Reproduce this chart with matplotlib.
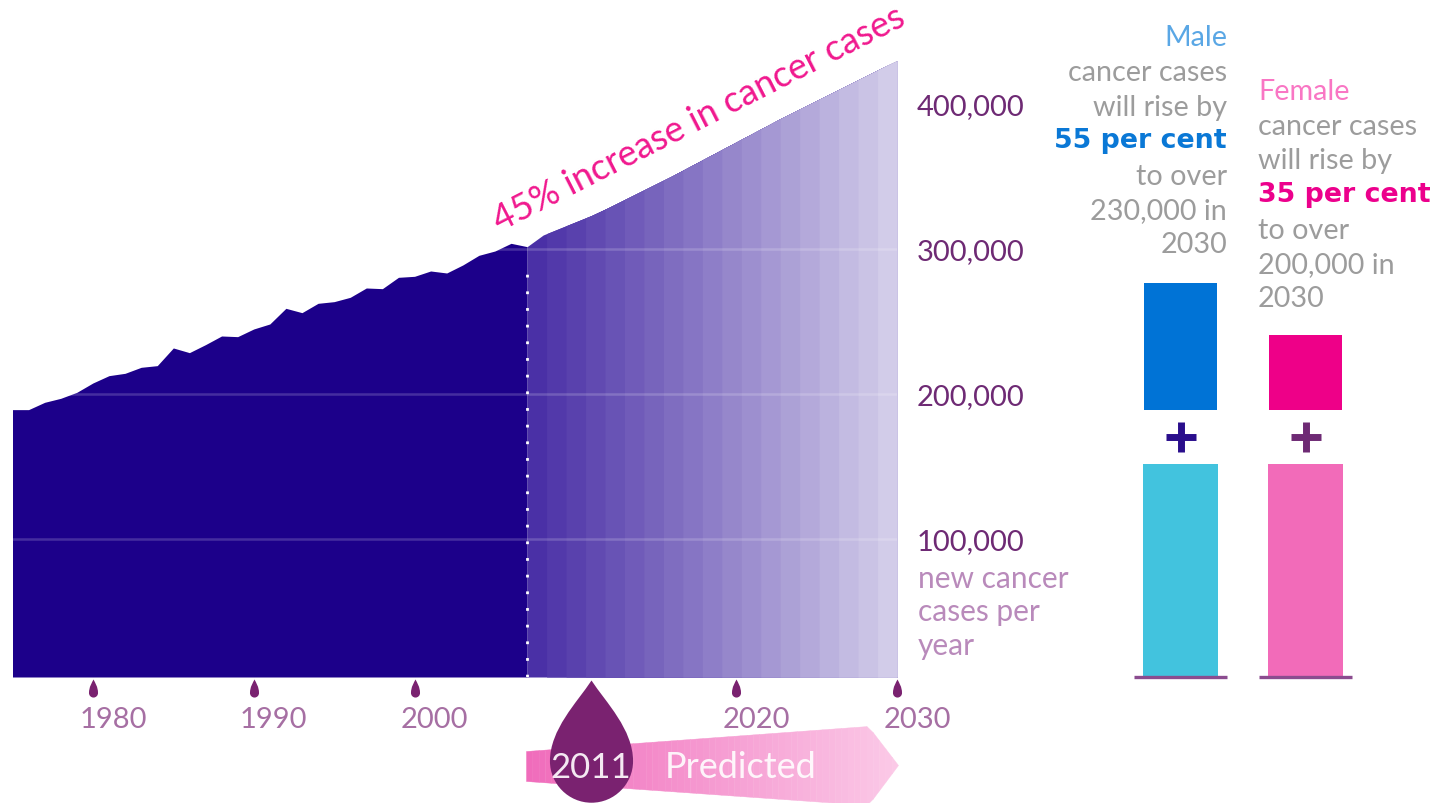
import numpy as np
import matplotlib
matplotlib.use('Agg')
import matplotlib.pyplot as plt
from matplotlib.path import Path
from matplotlib.colors import to_rgb
from matplotlib.transforms import Affine2D, ScaledTranslation

plt.rcParams['font.family'] = ['Lato', 'DejaVu Sans']

# new cases per year
years_obs = list(range(1975, 2008))
cases_obs = [189200, 189200, 194250, 197010, 201150, 207590, 212640, 214250, 218390, 219540,
             231730, 228510, 234020, 240000, 239540, 244830, 248280, 259080, 256090, 262530,
             263680, 266670, 273100, 272640, 280460, 281150, 284830, 283450, 288970, 295630,
             298620, 303910, 301610]
years_pred = list(range(2007, 2031))
cases_pred = [301610, 309660, 314140, 318620, 323100, 328280, 333790, 339310, 344830, 350340,
              356210, 362070, 367930, 373800, 379660, 385520, 391380, 396900, 402410, 407930,
              413450, 418970, 424480, 429860]
year_ticks = [1980, 1990, 2000, 2020, 2030]
case_ticks = [100000, 200000, 300000, 400000]
case_labels = ['100,000', '200,000', '300,000', '400,000']
predicted_from = 2011

# stacked bars on the right
sexes = ['Male', 'Female']
base_cases = [147000, 147000]
rise_cases = [87900, 52100]

male_lines = ['Male', 'cancer cases', 'will rise by', '55 per cent', 'to over', '230,000 in', '2030']
female_lines = ['Female', 'cancer cases', 'will rise by', '35 per cent', 'to over', '200,000 in', '2030']
unit_lines = ['new cancer', 'cases per', 'year']

W, H = 1443, 804
NAVY = '#1c008a'
PURPLE = '#7a2270'
GREY = '#9c9c9c'


def drop_path(ratio):
    # tip at the origin, hanging down to y=-1
    r = ratio / 2
    verts = [(0, 0),
             (r * 0.35, -0.18), (r, -0.4), (r, -1 + r),
             (r, -1 + 0.45 * r), (0.55 * r, -1), (0, -1),
             (-0.55 * r, -1), (-r, -1 + 0.45 * r), (-r, -1 + r),
             (-r, -0.4), (-r * 0.35, -0.18), (0, 0)]
    codes = [Path.MOVETO] + [Path.CURVE4] * 12
    return Path(verts, codes)


def mix(c0, c1, t):
    return tuple(np.array(to_rgb(c0)) * (1 - t) + np.array(to_rgb(c1)) * t)


fig = plt.figure(figsize=(W / 100, H / 100), dpi=100)
ax = fig.add_axes([12.5 / W, 1 - 678 / H, (897 - 12.5) / W, (678 - 40) / H])
px = Affine2D().scale(1 / W, -1 / H).translate(0, 1) + fig.transFigure

# observed part
ax.fill_between(years_obs, 4800, cases_obs, color=NAVY, lw=0, zorder=2)

# predicted part in stepped fading bands, each one painted over the one before
n_bands = 19
edges = np.linspace(2007, 2030, n_bands + 1)
for i in range(n_bands):
    xs = [edges[i]] + [e for e in years_pred if e > edges[i]]
    ys = np.interp(xs, years_pred, cases_pred)
    c = mix('#4a30a6', '#d2cce9', i / (n_bands - 1))
    ax.fill_between(xs, 4800, ys, color=c, lw=0, zorder=2)

# grid lines only inside the area
for v in case_ticks[:3]:
    ax.axhline(v, color='white', alpha=0.18, lw=1.8, zorder=3)
ax.vlines(2007, 4800, cases_pred[0] - 10000, color='white', lw=2, linestyles=(0, (1, 5)), zorder=4)

ax.set_xticks(year_ticks)
ax.set_xticklabels([str(y) for y in year_ticks], fontsize=21, color='#a66fa3')
ax.set_yticks(case_ticks)
ax.set_yticklabels(case_labels, fontsize=21, color='#6e2a74')
ax.tick_params(axis='x', length=0, pad=21)
ax.tick_params(axis='y', length=0, left=False, labelleft=False, right=True, labelright=True, pad=14)
shift = ScaledTranslation(20 / 100, 0, fig.dpi_scale_trans)
for lab in ax.get_xticklabels():
    lab.set_transform(lab.get_transform() + shift)
for s in ax.spines.values():
    s.set_visible(False)

# tick drops
ax.plot(year_ticks, [4800 - 1500] * len(year_ticks), linestyle=' ', marker=drop_path(0.5), markersize=26,
        color=PURPLE, mew=0, clip_on=False, zorder=5)

# predicted arrow
ax_x = np.linspace(526, 898, 60)
top = np.interp(ax_x, [526, 868, 898], [752, 727, 766])
bot = np.interp(ax_x, [526, 868, 898], [782, 806, 766])
for i in range(len(ax_x) - 1):
    c = mix('#f06cbb', '#fbc9e7', i / (len(ax_x) - 2))
    ax.fill_between(ax_x[i:i + 2], top[i:i + 2], bot[i:i + 2], transform=px, color=c, ec=c, lw=0.3,
                    clip_on=False, zorder=5)

ax.plot([predicted_from], [4800 - 2000], linestyle=' ', marker=drop_path(0.68), markersize=176, color=PURPLE,
        mew=0, clip_on=False, zorder=6)
ax.text(591, 768, '2011', transform=px, color='#f4e9f2', fontsize=25, ha='center', va='center', zorder=7)
ax.text(741, 768, 'Predicted', transform=px, color='white', fontsize=26, ha='center', va='center', alpha=0.9, zorder=7)

ax.text(699, 119, '45% increase in cancer cases', transform=px, color='#f0188e', fontsize=26, rotation=27,
        rotation_mode='anchor', ha='center', va='center', clip_on=False)

for t, y in zip(unit_lines, [579, 612, 646]):
    ax.text(918, y, t, transform=px, color='#b98abb', fontsize=21.5, va='center', ha='left')

ax.set_xlim(1975, 2030)
ax.set_ylim(4800, 444830)

# bars on the right, same px per case as the main chart
ax2 = fig.add_axes([1100 / W, 1 - 678 / H, 300 / W, 678 / H])
gap = 36800
x = np.arange(len(sexes))
ax2.bar(x, base_cases, width=0.6, color=['#42c3de', '#f26bb9'])
ax2.bar(x, rise_cases, width=0.59, bottom=np.array(base_cases) + gap, color=['#0073d6', '#ee0088'])
for xi in x:
    ax2.plot([xi - 0.37, xi + 0.37], [0, 0], color='#8b4c8f', lw=2.4, clip_on=False, solid_capstyle='butt')
ax2.plot([0], [base_cases[0] + gap / 2], marker='+', markersize=21, mew=5, color='#2a0e8c', linestyle=' ')
ax2.plot([1], [base_cases[1] + gap / 2], marker='+', markersize=21, mew=5, color='#6e2a74', linestyle=' ')
ax2.set_xlim(-0.644, 1.756)
ax2.set_ylim(0, 678 / 1.45 * 1000)
ax2.axis('off')

# text blocks above the bars
for t, y, c, bold in zip(male_lines, [37, 72, 107, 141, 176, 210, 244],
                         ['#5aa7e5', GREY, GREY, '#0a78d6', GREY, GREY, GREY],
                         [0, 0, 0, 1, 0, 0, 0]):
    if bold:
        ax.text(1227, y, t, transform=px, color=c, fontweight='bold', family='DejaVu Sans', fontsize=19.3, ha='right', va='center')
    else:
        ax.text(1227, y + 1, t, transform=px, color=c, fontsize=20.7, ha='right', va='center')
for t, y, c, bold in zip(female_lines, [91, 126, 160, 195, 230, 264, 298],
                         ['#f976c4', GREY, GREY, '#ec008c', GREY, GREY, GREY],
                         [0, 0, 0, 1, 0, 0, 0]):
    if bold:
        ax.text(1258, y, t, transform=px, color=c, fontweight='bold', family='DejaVu Sans', fontsize=19.3, ha='left', va='center')
    else:
        ax.text(1258, y + 1, t, transform=px, color=c, fontsize=20.7, ha='left', va='center')

plt.savefig('out.png', dpi=100)
